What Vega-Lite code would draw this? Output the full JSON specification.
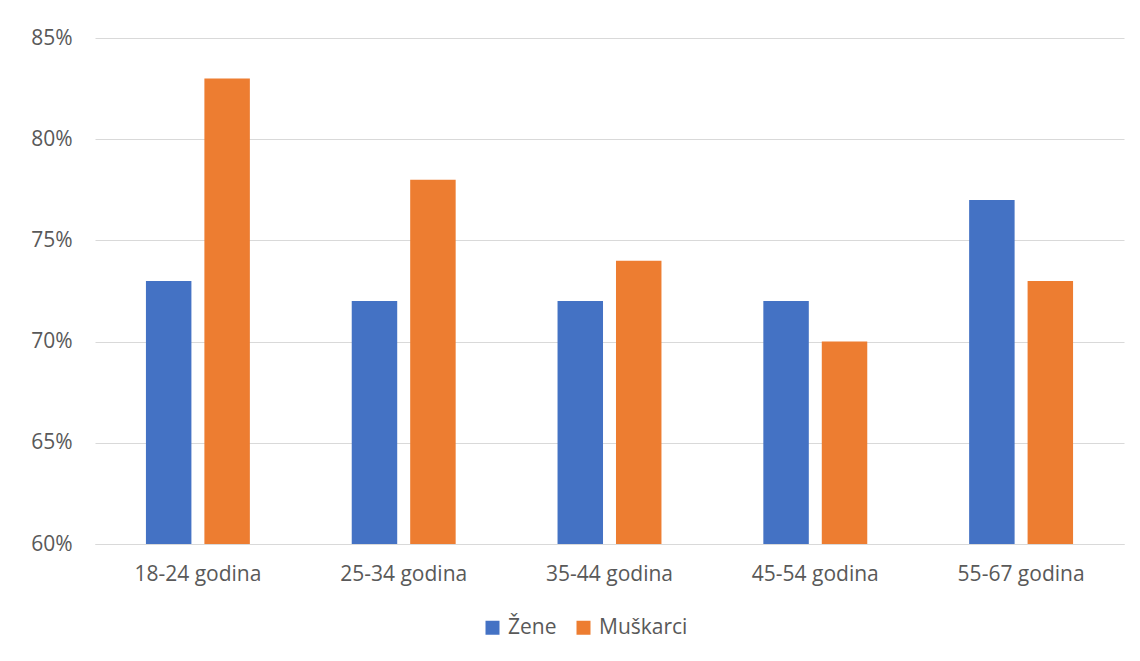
{
  "$schema": "https://vega.github.io/schema/vega-lite/v6.json",
  "width": 1029,
  "height": 506,
  "autosize": "none",
  "padding": {"left": 95, "top": 38, "right": 16, "bottom": 117},
  "background": "white",
  "config": {
    "view": {"stroke": null},
    "font": "Open Sans",
    "axis": {"labelFont": "Open Sans", "labelColor": "#595959", "labelFontSize": 21},
    "legend": {"labelFont": "Open Sans", "labelColor": "#595959", "labelFontSize": 21}
  },
  "data": {
    "values": [
      {"group": "18-24 godina", "sex": "Žene", "value": 0.73},
      {"group": "18-24 godina", "sex": "Muškarci", "value": 0.83},
      {"group": "25-34 godina", "sex": "Žene", "value": 0.72},
      {"group": "25-34 godina", "sex": "Muškarci", "value": 0.78},
      {"group": "35-44 godina", "sex": "Žene", "value": 0.72},
      {"group": "35-44 godina", "sex": "Muškarci", "value": 0.74},
      {"group": "45-54 godina", "sex": "Žene", "value": 0.72},
      {"group": "45-54 godina", "sex": "Muškarci", "value": 0.70},
      {"group": "55-67 godina", "sex": "Žene", "value": 0.77},
      {"group": "55-67 godina", "sex": "Muškarci", "value": 0.73}
    ]
  },
  "mark": {"type": "bar", "clip": true},
  "encoding": {
    "x": {
      "field": "group", "type": "nominal", "sort": null,
      "scale": {"paddingInner": 0.495, "paddingOuter": 0.2475},
      "axis": {"title": null, "labelAngle": 0, "domainColor": "#d9d9d9", "domainWidth": 1, "ticks": false, "labelPadding": 19}
    },
    "xOffset": {
      "field": "sex", "type": "nominal", "sort": ["Žene", "Muškarci"],
      "scale": {"paddingInner": 0.222, "paddingOuter": 0}
    },
    "y": {
      "field": "value", "type": "quantitative",
      "scale": {"domain": [0.6, 0.85], "zero": false, "nice": false},
      "axis": {"title": null, "format": ".0%", "values": [0.6, 0.65, 0.7, 0.75, 0.8, 0.85], "domain": false, "ticks": false, "gridColor": "#d9d9d9", "gridWidth": 1, "labelPadding": 23}
    },
    "color": {
      "field": "sex", "type": "nominal", "sort": ["Žene", "Muškarci"],
      "scale": {"domain": ["Žene", "Muškarci"], "range": ["#4472C4", "#ED7D31"]},
      "legend": {"title": null, "orient": "none", "direction": "horizontal", "legendX": 387, "legendY": 579, "symbolType": "square", "symbolSize": 196, "symbolStrokeWidth": 0, "columnPadding": 16, "labelOffset": 5}
    }
  }
}
